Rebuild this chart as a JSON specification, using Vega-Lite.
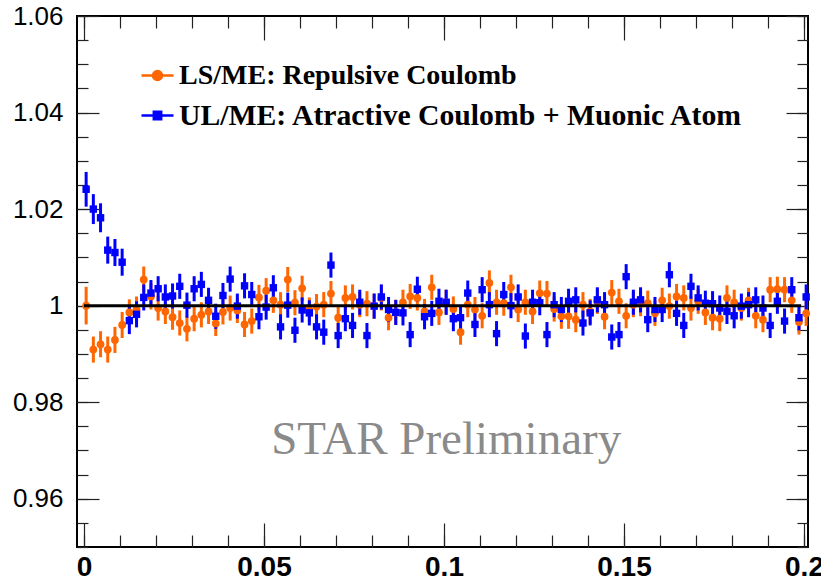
{
  "$schema": "https://vega.github.io/schema/vega-lite/v6.json",
  "width": 731,
  "height": 531,
  "autosize": {"type": "none"},
  "padding": {"left": 77, "top": 16, "right": 13, "bottom": 33},
  "background": "white",
  "config": {
    "view": {"stroke": "black", "strokeWidth": 2},
    "axis": {"domain": false, "grid": false, "title": null, "tickColor": "#222", "tickWidth": 1.2, "labelOverlap": false, "labelFlush": false, "labelColor": "black"}
  },
  "datasets": {
    "ls": [
      {"x":0.0006,"y":1.0000,"e":0.0039},{"x":0.0026,"y":0.9909,"e":0.0027},{"x":0.0046,"y":0.9920,"e":0.0027},{"x":0.0066,"y":0.9909,"e":0.0027},{"x":0.0086,"y":0.9929,"e":0.0027},
      {"x":0.0106,"y":0.9960,"e":0.0027},{"x":0.0126,"y":0.9986,"e":0.0027},{"x":0.0146,"y":0.9992,"e":0.0027},{"x":0.0166,"y":1.0054,"e":0.0027},{"x":0.0186,"y":1.0019,"e":0.0027},
      {"x":0.0206,"y":0.9995,"e":0.0026},{"x":0.0226,"y":0.9988,"e":0.0026},{"x":0.0246,"y":0.9976,"e":0.0026},{"x":0.0266,"y":0.9964,"e":0.0026},{"x":0.0286,"y":0.9952,"e":0.0026},
      {"x":0.0306,"y":0.9973,"e":0.0026},{"x":0.0326,"y":0.9981,"e":0.0026},{"x":0.0346,"y":0.9988,"e":0.0026},{"x":0.0366,"y":0.9963,"e":0.0026},{"x":0.0386,"y":0.9987,"e":0.0026},
      {"x":0.0406,"y":0.9995,"e":0.0026},{"x":0.0426,"y":0.9990,"e":0.0026},{"x":0.0446,"y":0.9961,"e":0.0026},{"x":0.0466,"y":0.9968,"e":0.0026},{"x":0.0486,"y":1.0017,"e":0.0026},
      {"x":0.0506,"y":1.0031,"e":0.0026},{"x":0.0526,"y":1.0011,"e":0.0026},{"x":0.0546,"y":1.0002,"e":0.0026},{"x":0.0566,"y":1.0054,"e":0.0026},{"x":0.0586,"y":1.0006,"e":0.0026},
      {"x":0.0606,"y":1.0036,"e":0.0026},{"x":0.0626,"y":0.9991,"e":0.0026},{"x":0.0646,"y":0.9998,"e":0.0026},{"x":0.0666,"y":1.0002,"e":0.0026},{"x":0.0686,"y":1.0025,"e":0.0026},
      {"x":0.0706,"y":0.9975,"e":0.0026},{"x":0.0726,"y":1.0016,"e":0.0026},{"x":0.0746,"y":1.0018,"e":0.0026},{"x":0.0766,"y":1.0002,"e":0.0026},{"x":0.0786,"y":1.0004,"e":0.0026},
      {"x":0.0806,"y":0.9999,"e":0.0026},{"x":0.0826,"y":1.0016,"e":0.0026},{"x":0.0846,"y":0.9975,"e":0.0026},{"x":0.0866,"y":0.9986,"e":0.0026},{"x":0.0886,"y":1.0007,"e":0.0026},
      {"x":0.0906,"y":1.0019,"e":0.0026},{"x":0.0926,"y":1.0016,"e":0.0026},{"x":0.0946,"y":0.9988,"e":0.0026},{"x":0.0966,"y":1.0038,"e":0.0026},{"x":0.0986,"y":0.9986,"e":0.0026},
      {"x":0.1006,"y":1.0007,"e":0.0026},{"x":0.1026,"y":0.9993,"e":0.0026},{"x":0.1046,"y":0.9945,"e":0.0026},{"x":0.1066,"y":1.0002,"e":0.0026},{"x":0.1086,"y":0.9992,"e":0.0026},
      {"x":0.1106,"y":0.9979,"e":0.0026},{"x":0.1126,"y":1.0047,"e":0.0026},{"x":0.1146,"y":1.0007,"e":0.0026},{"x":0.1166,"y":1.0005,"e":0.0026},{"x":0.1186,"y":1.0038,"e":0.0026},
      {"x":0.1206,"y":0.9992,"e":0.0026},{"x":0.1226,"y":1.0007,"e":0.0026},{"x":0.1246,"y":0.9988,"e":0.0026},{"x":0.1266,"y":1.0026,"e":0.0026},{"x":0.1286,"y":1.0025,"e":0.0026},
      {"x":0.1306,"y":0.9993,"e":0.0026},{"x":0.1326,"y":0.9978,"e":0.0026},{"x":0.1346,"y":0.9978,"e":0.0026},{"x":0.1366,"y":0.9971,"e":0.0026},{"x":0.1386,"y":1.0002,"e":0.0026},
      {"x":0.1406,"y":0.9988,"e":0.0026},{"x":0.1426,"y":1.0009,"e":0.0026},{"x":0.1446,"y":0.9977,"e":0.0026},{"x":0.1466,"y":1.0027,"e":0.0026},{"x":0.1486,"y":1.0009,"e":0.0026},
      {"x":0.1506,"y":0.9979,"e":0.0026},{"x":0.1526,"y":1.0002,"e":0.0026},{"x":0.1546,"y":1.0004,"e":0.0026},{"x":0.1566,"y":1.0005,"e":0.0026},{"x":0.1586,"y":0.9984,"e":0.0026},
      {"x":0.1606,"y":1.0011,"e":0.0026},{"x":0.1626,"y":0.9999,"e":0.0026},{"x":0.1646,"y":1.0019,"e":0.0026},{"x":0.1666,"y":1.0016,"e":0.0026},{"x":0.1686,"y":0.9995,"e":0.0026},
      {"x":0.1706,"y":1.0009,"e":0.0026},{"x":0.1726,"y":0.9986,"e":0.0026},{"x":0.1746,"y":0.9975,"e":0.0026},{"x":0.1766,"y":0.9973,"e":0.0026},{"x":0.1786,"y":1.0016,"e":0.0026},
      {"x":0.1806,"y":1.0007,"e":0.0026},{"x":0.1826,"y":0.9995,"e":0.0026},{"x":0.1846,"y":1.0011,"e":0.0026},{"x":0.1866,"y":0.9979,"e":0.0026},{"x":0.1886,"y":0.9971,"e":0.0026},
      {"x":0.1906,"y":1.0033,"e":0.0026},{"x":0.1926,"y":1.0034,"e":0.0026},{"x":0.1946,"y":1.0033,"e":0.0026},{"x":0.1966,"y":1.0011,"e":0.0026},{"x":0.1986,"y":0.9966,"e":0.0026},
      {"x":0.2006,"y":0.9984,"e":0.0026}
    ],
    "ul": [
      {"x":0.0006,"y":1.0241,"e":0.0036},{"x":0.0026,"y":1.0200,"e":0.0031},{"x":0.0046,"y":1.0182,"e":0.0030},{"x":0.0066,"y":1.0115,"e":0.0028},{"x":0.0086,"y":1.0110,"e":0.0028},
      {"x":0.0106,"y":1.0090,"e":0.0028},{"x":0.0126,"y":0.9969,"e":0.0028},{"x":0.0146,"y":0.9982,"e":0.0027},{"x":0.0166,"y":1.0017,"e":0.0027},{"x":0.0186,"y":1.0026,"e":0.0027},
      {"x":0.0206,"y":1.0035,"e":0.0026},{"x":0.0226,"y":1.0018,"e":0.0026},{"x":0.0246,"y":1.0020,"e":0.0026},{"x":0.0266,"y":1.0040,"e":0.0026},{"x":0.0286,"y":1.0001,"e":0.0026},
      {"x":0.0306,"y":1.0035,"e":0.0026},{"x":0.0326,"y":1.0044,"e":0.0026},{"x":0.0346,"y":1.0011,"e":0.0026},{"x":0.0366,"y":0.9978,"e":0.0026},{"x":0.0386,"y":1.0021,"e":0.0026},
      {"x":0.0406,"y":1.0055,"e":0.0026},{"x":0.0426,"y":0.9999,"e":0.0026},{"x":0.0446,"y":1.0041,"e":0.0026},{"x":0.0466,"y":1.0023,"e":0.0026},{"x":0.0486,"y":0.9977,"e":0.0026},
      {"x":0.0506,"y":0.9997,"e":0.0026},{"x":0.0526,"y":1.0037,"e":0.0026},{"x":0.0546,"y":0.9956,"e":0.0026},{"x":0.0566,"y":1.0001,"e":0.0026},{"x":0.0586,"y":0.9949,"e":0.0026},
      {"x":0.0606,"y":0.9991,"e":0.0026},{"x":0.0626,"y":0.9985,"e":0.0026},{"x":0.0646,"y":0.9956,"e":0.0026},{"x":0.0666,"y":0.9945,"e":0.0026},{"x":0.0686,"y":1.0084,"e":0.0026},
      {"x":0.0706,"y":0.9938,"e":0.0026},{"x":0.0726,"y":0.9973,"e":0.0026},{"x":0.0746,"y":0.9959,"e":0.0026},{"x":0.0766,"y":1.0007,"e":0.0026},{"x":0.0786,"y":0.9938,"e":0.0026},
      {"x":0.0806,"y":0.9999,"e":0.0026},{"x":0.0826,"y":1.0018,"e":0.0026},{"x":0.0846,"y":0.9992,"e":0.0026},{"x":0.0866,"y":0.9986,"e":0.0026},{"x":0.0886,"y":0.9985,"e":0.0026},
      {"x":0.0906,"y":0.9940,"e":0.0026},{"x":0.0926,"y":1.0034,"e":0.0026},{"x":0.0946,"y":0.9977,"e":0.0026},{"x":0.0966,"y":0.9984,"e":0.0026},{"x":0.0986,"y":1.0009,"e":0.0026},
      {"x":0.1006,"y":1.0007,"e":0.0026},{"x":0.1026,"y":0.9973,"e":0.0026},{"x":0.1046,"y":0.9975,"e":0.0026},{"x":0.1066,"y":1.0026,"e":0.0026},{"x":0.1086,"y":0.9961,"e":0.0026},
      {"x":0.1106,"y":1.0033,"e":0.0026},{"x":0.1126,"y":1.0002,"e":0.0026},{"x":0.1146,"y":0.9942,"e":0.0026},{"x":0.1166,"y":1.0023,"e":0.0026},{"x":0.1186,"y":1.0000,"e":0.0026},
      {"x":0.1206,"y":1.0018,"e":0.0026},{"x":0.1226,"y":0.9937,"e":0.0026},{"x":0.1246,"y":1.0007,"e":0.0026},{"x":0.1266,"y":1.0006,"e":0.0026},{"x":0.1286,"y":0.9940,"e":0.0026},
      {"x":0.1306,"y":1.0002,"e":0.0026},{"x":0.1326,"y":0.9992,"e":0.0026},{"x":0.1346,"y":1.0009,"e":0.0026},{"x":0.1366,"y":1.0012,"e":0.0026},{"x":0.1386,"y":0.9964,"e":0.0026},
      {"x":0.1406,"y":0.9985,"e":0.0026},{"x":0.1426,"y":1.0012,"e":0.0026},{"x":0.1446,"y":1.0002,"e":0.0026},{"x":0.1466,"y":0.9935,"e":0.0026},{"x":0.1486,"y":0.9940,"e":0.0026},
      {"x":0.1506,"y":1.0060,"e":0.0026},{"x":0.1526,"y":1.0007,"e":0.0026},{"x":0.1546,"y":1.0012,"e":0.0026},{"x":0.1566,"y":0.9971,"e":0.0026},{"x":0.1586,"y":0.9992,"e":0.0026},
      {"x":0.1606,"y":0.9992,"e":0.0026},{"x":0.1626,"y":1.0064,"e":0.0026},{"x":0.1646,"y":0.9984,"e":0.0026},{"x":0.1666,"y":0.9959,"e":0.0026},{"x":0.1686,"y":1.0040,"e":0.0026},
      {"x":0.1706,"y":1.0016,"e":0.0026},{"x":0.1726,"y":1.0005,"e":0.0026},{"x":0.1746,"y":1.0004,"e":0.0026},{"x":0.1766,"y":0.9995,"e":0.0026},{"x":0.1786,"y":0.9988,"e":0.0026},
      {"x":0.1806,"y":0.9979,"e":0.0026},{"x":0.1826,"y":0.9999,"e":0.0026},{"x":0.1846,"y":1.0002,"e":0.0026},{"x":0.1866,"y":1.0012,"e":0.0026},{"x":0.1886,"y":0.9995,"e":0.0026},
      {"x":0.1906,"y":0.9959,"e":0.0026},{"x":0.1926,"y":1.0009,"e":0.0026},{"x":0.1946,"y":0.9968,"e":0.0026},{"x":0.1966,"y":1.0033,"e":0.0026},{"x":0.1986,"y":0.9975,"e":0.0026},
      {"x":0.2006,"y":1.0018,"e":0.0026}
    ],
    "ref": [{"x":0,"x2":0.1992,"y":1}],
    "lab": [{"x":0.1006,"y":0.9693,"t":"STAR Preliminary"}]
  },
  "resolve": {
    "scale": {"color": "independent"},
    "legend": {"color": "independent"},
    "axis": {"x": "independent", "y": "independent"}
  },
  "layer": [
    {
      "data": {"name": "ls"},
      "mark": {"type": "errorbar", "color": "#ff6600", "thickness": 3, "ticks": false},
      "encoding": {
        "x": {"field": "x", "type": "quantitative", "scale": {"domain": [-0.00194, 0.20111], "nice": false, "zero": false}, "axis": null},
        "y": {"field": "y", "type": "quantitative", "scale": {"domain": [0.95, 1.06], "nice": false, "zero": false}, "axis": null},
        "yError": {"field": "e"}
      }
    },
    {
      "data": {"name": "ul"},
      "mark": {"type": "errorbar", "color": "#0000ff", "thickness": 3, "ticks": false},
      "encoding": {
        "x": {"field": "x", "type": "quantitative", "axis": null},
        "y": {"field": "y", "type": "quantitative", "axis": null},
        "yError": {"field": "e"}
      }
    },
    {
      "data": {"name": "ls"},
      "mark": {"type": "point", "filled": true, "shape": "circle", "size": 60, "opacity": 1},
      "encoding": {
        "x": {"field": "x", "type": "quantitative", "axis": {"orient": "bottom", "values": [0, 0.05, 0.1, 0.15, 0.2], "format": "~g", "tickSize": -24, "labelFont": "Liberation Sans", "labelFontWeight": "bold", "labelFontSize": 28, "labelPadding": 30}},
        "y": {"field": "y", "type": "quantitative", "axis": {"orient": "left", "values": [0.96, 0.98, 1, 1.02, 1.04, 1.06], "format": "~g", "tickSize": -22, "labelFont": "Liberation Sans", "labelFontSize": 26, "labelPadding": 36}},
        "color": {
          "datum": "LS/ME: Repulsive Coulomb",
          "scale": {"domain": ["LS/ME: Repulsive Coulomb"], "range": ["#ff6600"]},
          "legend": {"orient": "none", "legendX": 63, "legendY": 42, "title": null, "padding": 0,
            "symbolType": "M-1,0L1,0M-0.28,0A0.28,0.28,0,1,1,0.28,0A0.28,0.28,0,1,1,-0.28,0Z",
            "symbolSize": 1024, "symbolStrokeWidth": 2.5, "symbolFillColor": "#ff6600", "symbolStrokeColor": "#ff6600", "symbolOpacity": 1,
            "labelFont": "Liberation Serif", "labelFontWeight": "bold", "labelFontSize": 28, "labelColor": "black", "labelOffset": 4, "labelLimit": 800, "labelBaseline": "middle"}
        }
      }
    },
    {
      "data": {"name": "ul"},
      "mark": {"type": "point", "filled": true, "shape": "square", "size": 55, "opacity": 1},
      "encoding": {
        "x": {"field": "x", "type": "quantitative", "axis": {"orient": "bottom", "values": [0,0.01,0.02,0.03,0.04,0.05,0.06,0.07,0.08,0.09,0.1,0.11,0.12,0.13,0.14,0.15,0.16,0.17,0.18,0.19,0.2], "tickSize": -12, "labels": false}},
        "y": {"field": "y", "type": "quantitative", "axis": {"orient": "left", "values": [0.95,0.955,0.96,0.965,0.97,0.975,0.98,0.985,0.99,0.995,1,1.005,1.01,1.015,1.02,1.025,1.03,1.035,1.04,1.045,1.05,1.055,1.06], "tickSize": -11, "labels": false}},
        "color": {
          "datum": "UL/ME: Atractive Coulomb + Muonic Atom",
          "scale": {"domain": ["UL/ME: Atractive Coulomb + Muonic Atom"], "range": ["#0000ff"]},
          "legend": {"orient": "none", "legendX": 63, "legendY": 82, "title": null, "padding": 0,
            "symbolType": "M-1,0L1,0M-0.23,-0.23L0.23,-0.23L0.23,0.23L-0.23,0.23Z",
            "symbolSize": 1024, "symbolStrokeWidth": 2.5, "symbolFillColor": "#0000ff", "symbolStrokeColor": "#0000ff", "symbolOpacity": 1,
            "labelFont": "Liberation Serif", "labelFontWeight": "bold", "labelFontSize": 29.7, "labelColor": "black", "labelOffset": 4, "labelLimit": 800, "labelBaseline": "middle"}
        }
      }
    },
    {
      "data": {"name": "ref"},
      "mark": {"type": "rule", "color": "black", "strokeWidth": 3},
      "encoding": {
        "x": {"field": "x", "type": "quantitative", "axis": {"orient": "top", "values": [0, 0.05, 0.1, 0.15, 0.2], "tickSize": -24, "labels": false}},
        "x2": {"field": "x2"},
        "y": {"field": "y", "type": "quantitative", "axis": {"orient": "right", "values": [0.96, 0.98, 1, 1.02, 1.04, 1.06], "tickSize": -22, "labels": false}}
      }
    },
    {
      "data": {"name": "lab"},
      "mark": {"type": "text", "font": "Liberation Serif", "fontSize": 47, "color": "#8a8a8a", "align": "center", "baseline": "alphabetic"},
      "encoding": {
        "x": {"field": "x", "type": "quantitative", "axis": {"orient": "top", "values": [0,0.01,0.02,0.03,0.04,0.05,0.06,0.07,0.08,0.09,0.1,0.11,0.12,0.13,0.14,0.15,0.16,0.17,0.18,0.19,0.2], "tickSize": -12, "labels": false}},
        "y": {"field": "y", "type": "quantitative", "axis": {"orient": "right", "values": [0.95,0.955,0.96,0.965,0.97,0.975,0.98,0.985,0.99,0.995,1,1.005,1.01,1.015,1.02,1.025,1.03,1.035,1.04,1.045,1.05,1.055,1.06], "tickSize": -11, "labels": false}},
        "text": {"field": "t"}
      }
    }
  ]
}
